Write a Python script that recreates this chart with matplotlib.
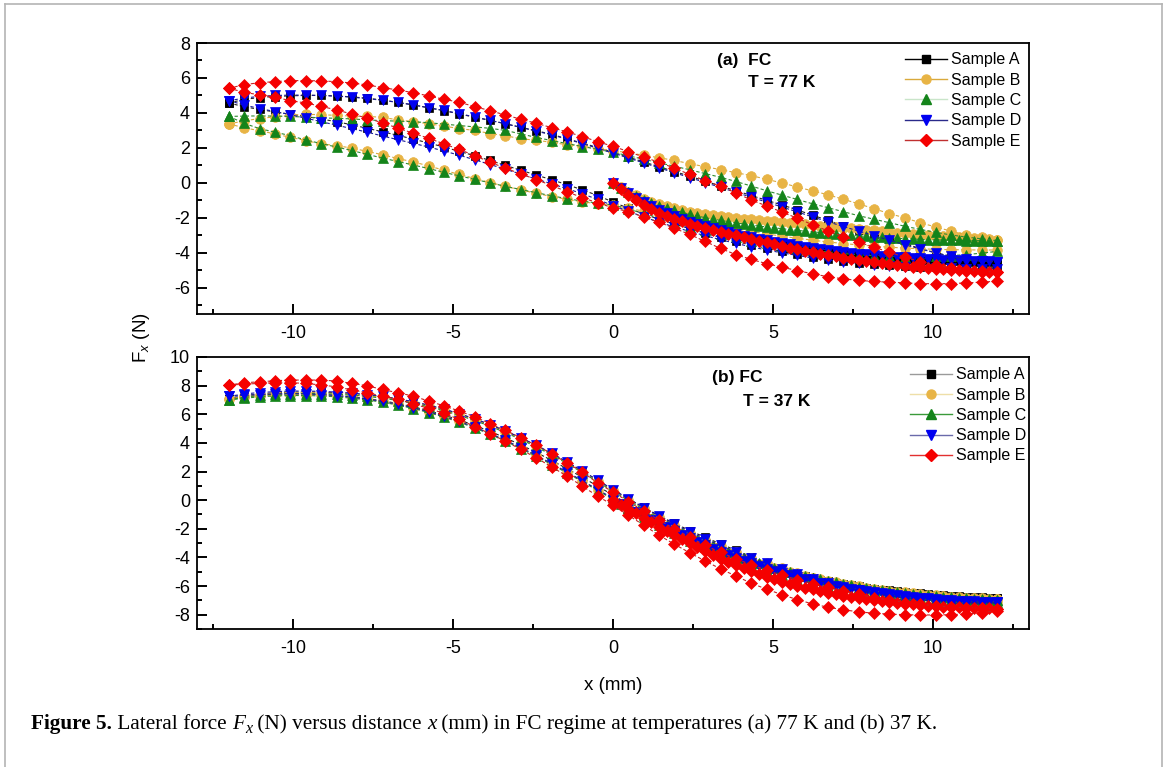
import numpy as np
import matplotlib
matplotlib.use('Agg')
import matplotlib.pyplot as plt
from matplotlib.lines import Line2D
from matplotlib.ticker import MultipleLocator

plt.rcParams['font.family'] = ['Liberation Sans', 'DejaVu Sans']
plt.rcParams['axes.unicode_minus'] = False
plt.rcParams['mathtext.fontset'] = 'custom'
plt.rcParams['mathtext.rm'] = 'Liberation Sans'
plt.rcParams['mathtext.it'] = 'Liberation Sans:italic'

# ---------------- data ----------------
samples = ['Sample A', 'Sample B', 'Sample C', 'Sample D', 'Sample E']
x_start, x_end = 0.0, 12.0      # initial branch after field cooling
x_min, x_max = -12.0, 12.0      # hysteresis loop range

# Panel (a) FC, T = 77 K  -- return branch (12 -> -12), listed in ascending x
a_A_up = [4.57,4.78,4.88,4.94,4.98,5.00,5.00,4.97,4.92,4.84,4.74,4.60,4.46,4.29,4.13,3.94,3.75,3.57,3.38,3.18,2.98,2.78,2.52,2.28,2.02,1.75,1.47,1.20,0.92,0.65,0.38,0.10,-0.18,-0.45,-0.72,-1.00,-1.26,-1.55,-1.85,-2.15,-2.44,-2.72,-2.95,-3.22,-3.48,-3.75,-4.00,-4.20,-4.36,-4.48,-4.55]
a_B_up = [3.37,3.55,3.68,3.78,3.86,3.92,3.90,3.86,3.82,3.80,3.75,3.60,3.50,3.38,3.25,3.10,3.00,2.82,2.70,2.52,2.44,2.32,2.18,2.10,1.95,1.85,1.72,1.58,1.44,1.28,1.10,0.92,0.76,0.58,0.42,0.20,0.00,-0.24,-0.46,-0.68,-0.94,-1.20,-1.48,-1.76,-2.00,-2.28,-2.52,-2.76,-2.98,-3.12,-3.24]
a_C_up = [3.80,3.82,3.83,3.82,3.80,3.76,3.72,3.69,3.66,3.60,3.56,3.53,3.50,3.44,3.36,3.28,3.20,3.12,3.00,2.80,2.60,2.42,2.25,2.08,1.92,1.75,1.55,1.35,1.15,0.95,0.75,0.53,0.32,0.08,-0.18,-0.45,-0.70,-0.95,-1.20,-1.42,-1.65,-1.88,-2.08,-2.28,-2.48,-2.66,-2.83,-2.98,-3.10,-3.20,-3.30]
a_D_up = [4.70,4.85,4.95,5.00,5.02,5.02,5.00,4.96,4.90,4.82,4.72,4.60,4.46,4.30,4.14,3.96,3.77,3.58,3.38,3.17,2.96,2.75,2.50,2.25,1.98,1.70,1.42,1.14,0.86,0.58,0.30,0.02,-0.26,-0.54,-0.82,-1.10,-1.38,-1.66,-1.95,-2.22,-2.50,-2.76,-3.02,-3.28,-3.54,-3.78,-4.00,-4.20,-4.36,-4.46,-4.50]
a_E_up = [5.41,5.62,5.73,5.79,5.85,5.85,5.83,5.79,5.71,5.60,5.45,5.31,5.16,4.97,4.78,4.61,4.36,4.13,3.88,3.64,3.41,3.16,2.92,2.65,2.36,2.09,1.79,1.47,1.18,0.84,0.48,0.13,-0.19,-0.57,-0.98,-1.32,-1.67,-2.02,-2.40,-2.75,-3.07,-3.39,-3.68,-3.97,-4.25,-4.50,-4.70,-4.86,-4.98,-5.06,-5.10]

# Panel (a) forward branch (-12 -> 12)
a_A_low = [4.57,4.35,4.20,4.05,3.93,3.80,3.65,3.50,3.32,3.12,2.92,2.72,2.50,2.28,2.05,1.80,1.55,1.28,1.00,0.72,0.45,0.18,-0.10,-0.40,-0.72,-1.10,-1.45,-1.78,-2.08,-2.35,-2.62,-2.88,-3.12,-3.35,-3.55,-3.74,-3.92,-4.08,-4.22,-4.35,-4.46,-4.56,-4.64,-4.70,-4.75,-4.80,-4.83,-4.85,-4.86,-4.86,-4.85]
a_B_low = [3.37,3.15,2.98,2.80,2.60,2.42,2.23,2.13,1.99,1.80,1.61,1.39,1.20,0.97,0.72,0.48,0.25,0.02,-0.20,-0.40,-0.60,-0.78,-0.94,-1.08,-1.20,-1.28,-1.45,-1.62,-1.80,-1.98,-2.15,-2.32,-2.48,-2.63,-2.78,-2.92,-3.05,-3.17,-3.28,-3.38,-3.47,-3.55,-3.62,-3.68,-3.73,-3.77,-3.80,-3.82,-3.83,-3.84,-3.84]
a_C_low = [3.80,3.40,3.10,2.90,2.70,2.45,2.25,2.05,1.85,1.63,1.42,1.22,1.02,0.82,0.60,0.40,0.20,0.00,-0.20,-0.38,-0.56,-0.74,-0.90,-1.04,-1.16,-1.26,-1.50,-1.75,-2.00,-2.25,-2.50,-2.72,-2.93,-3.12,-3.30,-3.46,-3.60,-3.73,-3.85,-3.95,-4.04,-4.11,-4.16,-4.20,-4.22,-4.22,-4.20,-4.16,-4.10,-4.02,-3.92]
a_D_low = [4.70,4.45,4.25,4.08,3.90,3.70,3.50,3.30,3.10,2.90,2.68,2.47,2.26,2.05,1.82,1.58,1.32,1.05,0.78,0.50,0.22,-0.05,-0.33,-0.62,-0.95,-1.30,-1.62,-1.95,-2.25,-2.52,-2.78,-3.02,-3.25,-3.46,-3.66,-3.84,-4.00,-4.15,-4.30,-4.42,-4.52,-4.61,-4.68,-4.74,-4.79,-4.83,-4.86,-4.88,-4.90,-4.90,-4.90]
a_E_low = [5.41,5.18,5.03,4.90,4.70,4.57,4.38,4.17,3.94,3.70,3.43,3.13,2.84,2.55,2.23,1.91,1.56,1.18,0.84,0.51,0.19,-0.15,-0.50,-0.85,-1.14,-1.43,-1.65,-1.95,-2.25,-2.60,-2.95,-3.35,-3.75,-4.10,-4.38,-4.62,-4.82,-5.02,-5.20,-5.37,-5.49,-5.58,-5.64,-5.68,-5.72,-5.76,-5.77,-5.76,-5.72,-5.68,-5.62]

# Panel (a) initial branch (0 -> 12)
a_A_init = [0,-0.30,-0.60,-0.88,-1.12,-1.35,-1.55,-1.73,-1.90,-2.05,-2.20,-2.34,-2.47,-2.60,-2.72,-2.83,-2.94,-3.04,-3.14,-3.23,-3.32,-3.40,-3.48,-3.56,-3.63,-3.70,-3.76,-3.82,-3.88,-3.93,-3.98,-4.03,-4.08,-4.12,-4.16,-4.20,-4.24,-4.28,-4.31,-4.34,-4.37,-4.40,-4.42,-4.44,-4.46,-4.48,-4.50,-4.52,-4.53,-4.54,-4.55]
a_B_init = [0,-0.25,-0.50,-0.72,-0.92,-1.08,-1.22,-1.34,-1.45,-1.55,-1.64,-1.72,-1.79,-1.85,-1.90,-1.95,-2.00,-2.04,-2.08,-2.12,-2.16,-2.20,-2.24,-2.28,-2.32,-2.36,-2.40,-2.44,-2.48,-2.52,-2.56,-2.60,-2.64,-2.68,-2.72,-2.76,-2.80,-2.84,-2.88,-2.92,-2.96,-3.00,-3.03,-3.06,-3.09,-3.12,-3.15,-3.18,-3.20,-3.22,-3.24]
a_C_init = [0,-0.27,-0.52,-0.75,-0.96,-1.14,-1.30,-1.44,-1.57,-1.69,-1.80,-1.90,-1.99,-2.07,-2.15,-2.22,-2.29,-2.35,-2.41,-2.47,-2.52,-2.57,-2.62,-2.67,-2.72,-2.76,-2.80,-2.84,-2.88,-2.92,-2.96,-3.00,-3.03,-3.06,-3.09,-3.12,-3.15,-3.17,-3.19,-3.21,-3.23,-3.25,-3.26,-3.27,-3.28,-3.29,-3.30,-3.30,-3.30,-3.30,-3.30]
a_D_init = [0,-0.28,-0.56,-0.84,-1.10,-1.33,-1.54,-1.73,-1.90,-2.06,-2.21,-2.35,-2.48,-2.60,-2.72,-2.83,-2.93,-3.03,-3.12,-3.21,-3.29,-3.37,-3.45,-3.52,-3.59,-3.66,-3.72,-3.78,-3.84,-3.89,-3.94,-3.99,-4.04,-4.08,-4.12,-4.16,-4.20,-4.23,-4.26,-4.29,-4.32,-4.35,-4.37,-4.39,-4.41,-4.43,-4.45,-4.46,-4.47,-4.48,-4.50]
a_E_init = [0,-0.34,-0.67,-0.98,-1.28,-1.52,-1.72,-1.90,-2.06,-2.20,-2.33,-2.45,-2.57,-2.68,-2.79,-2.90,-3.00,-3.10,-3.20,-3.30,-3.40,-3.50,-3.60,-3.70,-3.79,-3.88,-3.96,-4.04,-4.12,-4.20,-4.27,-4.34,-4.41,-4.47,-4.53,-4.59,-4.64,-4.69,-4.74,-4.79,-4.83,-4.87,-4.91,-4.95,-4.98,-5.01,-5.04,-5.06,-5.08,-5.10,-5.10]

# Panel (b) FC, T = 37 K -- return branch (12 -> -12), ascending x
b_A_up = [7.10,7.30,7.42,7.50,7.54,7.55,7.54,7.50,7.44,7.35,7.22,7.06,6.86,6.62,6.34,6.02,5.66,5.26,4.82,4.34,3.82,3.26,2.66,2.03,1.38,0.72,0.10,-0.50,-1.08,-1.62,-2.12,-2.60,-3.05,-3.50,-3.95,-4.38,-4.78,-5.15,-5.48,-5.78,-6.05,-6.28,-6.47,-6.62,-6.74,-6.83,-6.89,-6.92,-6.93,-6.90,-6.85]
b_B_up = [7.05,7.26,7.38,7.46,7.50,7.51,7.50,7.46,7.40,7.31,7.18,7.02,6.82,6.58,6.30,5.98,5.62,5.22,4.78,4.30,3.78,3.22,2.62,1.99,1.34,0.68,0.04,-0.58,-1.18,-1.74,-2.26,-2.75,-3.20,-3.62,-4.02,-4.40,-4.76,-5.10,-5.41,-5.69,-5.94,-6.16,-6.36,-6.53,-6.67,-6.78,-6.86,-6.92,-6.95,-6.95,-6.92]
b_C_up = [7.00,7.20,7.32,7.40,7.44,7.45,7.44,7.40,7.34,7.25,7.12,6.96,6.76,6.52,6.24,5.92,5.56,5.16,4.72,4.24,3.72,3.16,2.56,1.93,1.28,0.62,-0.02,-0.64,-1.24,-1.80,-2.32,-2.80,-3.25,-3.68,-4.08,-4.46,-4.82,-5.16,-5.47,-5.75,-6.00,-6.22,-6.42,-6.58,-6.72,-6.82,-6.90,-6.95,-6.98,-6.98,-6.95]
b_D_up = [7.25,7.42,7.52,7.58,7.62,7.62,7.60,7.55,7.48,7.38,7.25,7.08,6.88,6.64,6.36,6.04,5.68,5.28,4.84,4.36,3.84,3.28,2.68,2.05,1.40,0.74,0.10,-0.52,-1.12,-1.68,-2.20,-2.70,-3.16,-3.60,-4.02,-4.42,-4.80,-5.15,-5.48,-5.78,-6.05,-6.30,-6.52,-6.70,-6.85,-6.97,-7.06,-7.12,-7.15,-7.15,-7.12]
b_E_up = [8.04,8.20,8.27,8.34,8.39,8.39,8.39,8.32,8.16,7.99,7.73,7.50,7.27,6.92,6.59,6.22,5.82,5.35,4.89,4.35,3.84,3.25,2.60,1.97,1.20,0.57,-0.10,-0.75,-1.40,-2.00,-2.60,-3.15,-3.65,-4.10,-4.50,-4.90,-5.25,-5.55,-5.85,-6.10,-6.35,-6.58,-6.80,-6.98,-7.15,-7.28,-7.38,-7.46,-7.52,-7.55,-7.57]

# Panel (b) forward branch (-12 -> 12)
b_A_low = [7.10,7.22,7.32,7.38,7.42,7.42,7.38,7.32,7.22,7.10,6.94,6.75,6.52,6.25,5.94,5.60,5.22,4.80,4.35,3.86,3.34,2.78,2.20,1.60,0.98,0.35,-0.28,-0.90,-1.50,-2.07,-2.60,-3.10,-3.56,-3.98,-4.38,-4.74,-5.08,-5.38,-5.66,-5.90,-6.12,-6.32,-6.50,-6.65,-6.78,-6.88,-6.95,-7.00,-7.02,-7.00,-6.95]
b_B_low = [7.05,7.18,7.28,7.34,7.37,7.37,7.34,7.28,7.18,7.06,6.90,6.70,6.46,6.18,5.86,5.50,5.10,4.66,4.18,3.66,3.12,2.55,1.96,1.35,0.73,0.10,-0.52,-1.12,-1.70,-2.25,-2.77,-3.25,-3.70,-4.12,-4.51,-4.88,-5.22,-5.53,-5.81,-6.06,-6.29,-6.49,-6.67,-6.82,-6.94,-7.03,-7.10,-7.14,-7.15,-7.13,-7.08]
b_C_low = [7.00,7.12,7.22,7.28,7.31,7.31,7.28,7.22,7.12,7.00,6.84,6.64,6.40,6.12,5.80,5.44,5.04,4.60,4.12,3.60,3.06,2.49,1.90,1.29,0.67,0.05,-0.57,-1.17,-1.75,-2.30,-2.82,-3.30,-3.75,-4.17,-4.56,-4.92,-5.26,-5.57,-5.85,-6.10,-6.33,-6.53,-6.70,-6.85,-6.97,-7.06,-7.12,-7.16,-7.17,-7.15,-7.10]
b_D_low = [7.25,7.32,7.38,7.42,7.44,7.42,7.38,7.30,7.20,7.06,6.90,6.70,6.46,6.18,5.86,5.50,5.10,4.66,4.18,3.67,3.13,2.56,1.97,1.36,0.74,0.12,-0.50,-1.10,-1.68,-2.24,-2.76,-3.25,-3.70,-4.12,-4.52,-4.88,-5.22,-5.53,-5.82,-6.08,-6.32,-6.54,-6.73,-6.88,-7.00,-7.10,-7.18,-7.23,-7.25,-7.24,-7.20]
b_E_low = [8.04,8.10,8.16,8.20,8.20,8.16,8.04,7.92,7.70,7.50,7.27,7.04,6.73,6.41,6.06,5.64,5.13,4.64,4.12,3.54,2.96,2.33,1.68,0.98,0.28,-0.35,-1.05,-1.75,-2.45,-3.08,-3.68,-4.25,-4.80,-5.30,-5.80,-6.22,-6.60,-6.95,-7.25,-7.48,-7.66,-7.80,-7.90,-7.96,-8.00,-8.02,-8.02,-8.00,-7.95,-7.86,-7.72]

# Panel (b) initial branch (0 -> 12)
b_A_init = [0,-0.27,-0.54,-0.80,-1.06,-1.32,-1.58,-1.84,-2.10,-2.36,-2.60,-2.84,-3.07,-3.29,-3.50,-3.71,-3.91,-4.10,-4.28,-4.45,-4.62,-4.78,-4.93,-5.07,-5.20,-5.33,-5.45,-5.56,-5.67,-5.77,-5.86,-5.95,-6.03,-6.11,-6.18,-6.25,-6.31,-6.37,-6.42,-6.47,-6.52,-6.56,-6.60,-6.64,-6.67,-6.70,-6.73,-6.76,-6.79,-6.82,-6.85]
b_B_init = [0,-0.27,-0.54,-0.80,-1.06,-1.32,-1.58,-1.84,-2.09,-2.34,-2.58,-2.82,-3.05,-3.27,-3.48,-3.69,-3.89,-4.08,-4.26,-4.43,-4.60,-4.76,-4.91,-5.05,-5.18,-5.31,-5.43,-5.54,-5.65,-5.75,-5.85,-5.94,-6.03,-6.11,-6.19,-6.26,-6.33,-6.39,-6.45,-6.51,-6.56,-6.61,-6.65,-6.69,-6.73,-6.77,-6.80,-6.83,-6.86,-6.89,-6.92]
b_C_init = [0,-0.26,-0.52,-0.78,-1.04,-1.30,-1.55,-1.80,-2.05,-2.29,-2.53,-2.76,-2.99,-3.21,-3.42,-3.63,-3.83,-4.02,-4.20,-4.38,-4.55,-4.71,-4.86,-5.01,-5.15,-5.28,-5.41,-5.53,-5.64,-5.75,-5.85,-5.95,-6.04,-6.13,-6.21,-6.29,-6.36,-6.43,-6.49,-6.55,-6.60,-6.65,-6.70,-6.74,-6.78,-6.81,-6.84,-6.87,-6.90,-6.93,-6.95]
b_D_init = [0,-0.28,-0.56,-0.83,-1.10,-1.37,-1.64,-1.90,-2.16,-2.42,-2.67,-2.91,-3.15,-3.38,-3.60,-3.82,-4.03,-4.23,-4.42,-4.60,-4.78,-4.95,-5.11,-5.26,-5.40,-5.54,-5.67,-5.79,-5.90,-6.01,-6.11,-6.20,-6.29,-6.37,-6.45,-6.52,-6.59,-6.65,-6.71,-6.76,-6.81,-6.86,-6.90,-6.94,-6.98,-7.01,-7.04,-7.07,-7.09,-7.11,-7.12]
b_E_init = [0,-0.31,-0.62,-0.93,-1.24,-1.55,-1.85,-2.15,-2.45,-2.74,-3.02,-3.30,-3.57,-3.83,-4.08,-4.32,-4.55,-4.77,-4.98,-5.18,-5.36,-5.53,-5.70,-5.85,-5.99,-6.12,-6.24,-6.35,-6.46,-6.56,-6.66,-6.75,-6.83,-6.91,-6.98,-7.05,-7.11,-7.17,-7.22,-7.27,-7.32,-7.36,-7.40,-7.43,-7.46,-7.49,-7.51,-7.53,-7.55,-7.56,-7.57]

panel_a = [(a_A_init, a_A_up, a_A_low), (a_B_init, a_B_up, a_B_low), (a_C_init, a_C_up, a_C_low),
           (a_D_init, a_D_up, a_D_low), (a_E_init, a_E_up, a_E_low)]
panel_b = [(b_A_init, b_A_up, b_A_low), (b_B_init, b_B_up, b_B_low), (b_C_init, b_C_up, b_C_low),
           (b_D_init, b_D_up, b_D_low), (b_E_init, b_E_up, b_E_low)]

# ---------------- styles ----------------
markers = ['s', 'o', '^', 'v', 'D']
msizes = [6.0, 7.0, 7.0, 7.0, 6.5]
mcolors = ['#000000', '#E8B445', '#14841A', '#0000F0', '#F50000']
lcolors = ['#222222', '#D9A93C', '#2E8B2E', '#1A1A9A', '#C82020']
leg_a_lines = ['#000000', '#D9A93C', '#C9E5C9', '#2A2A8A', '#C03030']
leg_b_lines = ['#9A9A9A', '#EEDFA8', '#3A9A3A', '#6A6AAA', '#E23030']

W, H = 1166, 767
fig = plt.figure(figsize=(W / 100, H / 100), dpi=100)


def rect(l, t, r, b):
    return [l / W, 1 - b / H, (r - l) / W, (b - t) / H]


axa = fig.add_axes(rect(197, 43, 1029, 314))
axb = fig.add_axes(rect(197, 357, 1029, 629))


def draw(ax, data):
    for i, (init, up, low) in enumerate(data):
        xi = np.linspace(x_start, x_end, len(init))
        xu = np.linspace(x_min, x_max, len(up))
        xl = np.linspace(x_min, x_max, len(low))
        for xs, ys in ((xi, init), (xu, up), (xl, low)):
            ax.plot(xs, ys, ls=(0, (3, 2)), lw=0.8, color=lcolors[i], marker=markers[i],
                    ms=msizes[i], mfc=mcolors[i], mec=mcolors[i], mew=0.5, zorder=3 + i)


def style(ax, ylo, yhi):
    ax.set_xlim(-13, 13)
    ax.set_ylim(ylo, yhi)
    ax.xaxis.set_major_locator(MultipleLocator(5))
    ax.xaxis.set_minor_locator(MultipleLocator(2.5))
    ax.yaxis.set_major_locator(MultipleLocator(2))
    ax.yaxis.set_minor_locator(MultipleLocator(1))
    ax.tick_params(which='both', direction='in', top=False, right=False, width=1.4, labelsize=13)
    ax.tick_params(which='major', length=7)
    ax.tick_params(which='minor', length=3.5)
    ax.tick_params(axis='x', pad=8)
    ax.tick_params(axis='y', pad=5)
    for s in ax.spines.values():
        s.set_linewidth(1.3)


draw(axa, panel_a)
draw(axb, panel_b)
style(axa, -7.5, 8)
style(axb, -9, 10)


def legend(ax, linecols, anchor):
    handles = [Line2D([], [], color=linecols[i], lw=1.0, marker=markers[i], ms=msizes[i] - 0.5,
                      mfc=mcolors[i], mec=mcolors[i]) for i in range(5)]
    ax.legend(handles, samples, loc='upper left', bbox_to_anchor=anchor, frameon=False,
              fontsize=11.5, handlelength=2.6, handletextpad=0.25, labelspacing=0.33,
              borderpad=0, borderaxespad=0)


legend(axa, leg_a_lines, (0.851, 0.965))
legend(axb, leg_b_lines, (0.857, 0.962))

axa.text(0.625, 0.937, '(a)  FC', transform=axa.transAxes, fontsize=12.5, fontweight='bold', va='center')
axa.text(0.662, 0.856, 'T = 77 K', transform=axa.transAxes, fontsize=12.5, fontweight='bold', va='center')
axb.text(0.619, 0.923, '(b) FC', transform=axb.transAxes, fontsize=12.5, fontweight='bold', va='center')
axb.text(0.656, 0.838, 'T = 37 K', transform=axb.transAxes, fontsize=12.5, fontweight='bold', va='center')

fig.text(142 / W, 1 - 338 / H, 'F$_x$ (N)', rotation=90, fontsize=13.5, ha='center', va='center')
fig.text(613 / W, 1 - 686 / H, 'x (mm)', fontsize=13.5, ha='center', va='center')

# outer frame (open at the bottom)
fc = '#B4B4B4'
fig.add_artist(Line2D([5 / W, 5 / W], [0, 1 - 4 / H], transform=fig.transFigure, color=fc, lw=1.2))
fig.add_artist(Line2D([5 / W, 1162 / W], [1 - 4 / H, 1 - 4 / H], transform=fig.transFigure, color=fc, lw=1.2))
fig.add_artist(Line2D([1162 / W, 1162 / W], [0, 1 - 4 / H], transform=fig.transFigure, color=fc, lw=1.2))

# caption built from pieces
fig.canvas.draw()
renderer = fig.canvas.get_renderer()
cap = [('Figure 5.', 'normal', 'bold', 0),
       (' Lateral force ', 'normal', 'normal', 0),
       ('F', 'italic', 'normal', 0),
       ('x', 'italic', 'normal', 1),
       (' (N) versus distance ', 'normal', 'normal', 0),
       ('x', 'italic', 'normal', 0),
       (' (mm) in FC regime at temperatures (a) 77 K and (b) 37 K.', 'normal', 'normal', 0)]
xpos = 31.0
base = H - 729
for txt, st, wt, sub in cap:
    size = 15.3 if sub == 0 else 11.5
    yb = base - (4 if sub else 0)
    t = fig.text(xpos / W, yb / H, txt, fontsize=size, family=['Liberation Serif', 'DejaVu Serif'],
                 style=st, weight=wt, va='baseline', ha='left')
    bb = t.get_window_extent(renderer)
    xpos = bb.x1

fig.savefig('out.png', dpi=100)
